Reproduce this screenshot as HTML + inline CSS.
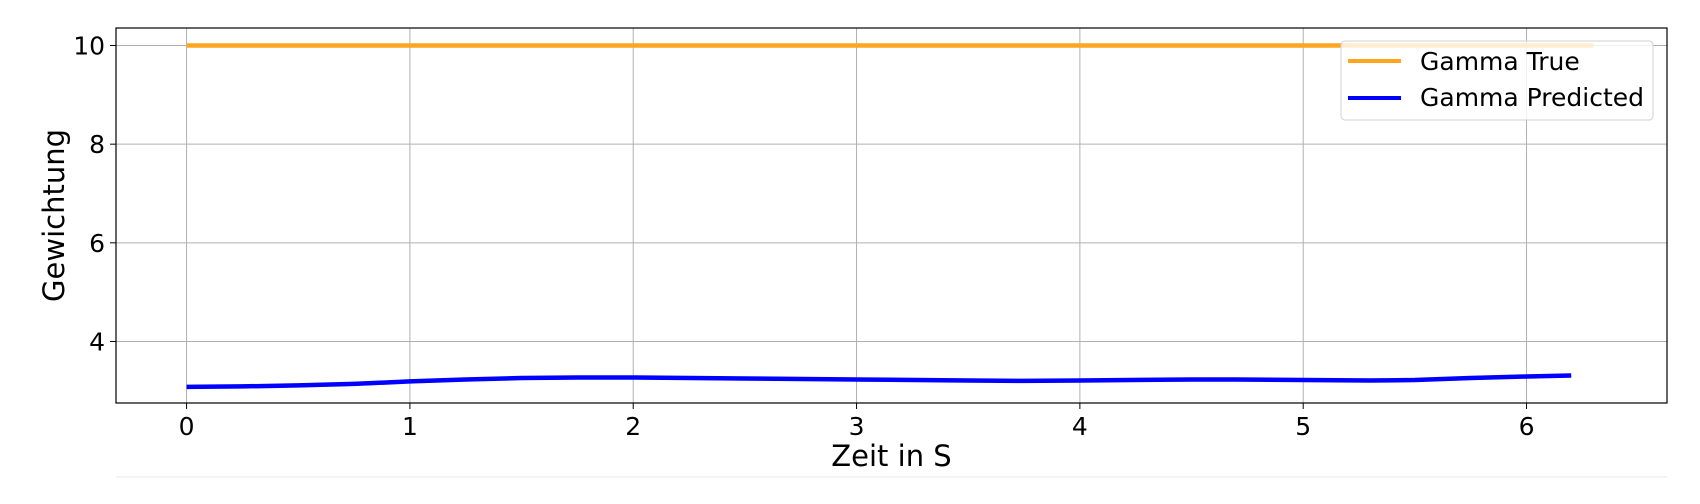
<!DOCTYPE html>
<html><head><meta charset="utf-8"><style>
body{margin:0;background:#fff;width:1700px;height:500px;overflow:hidden;font-family:"DejaVu Sans","Liberation Sans",sans-serif;}
</style></head><body>
<svg id="chart" width="1700" height="500" xmlns="http://www.w3.org/2000/svg" font-family="DejaVu Sans, Liberation Sans, sans-serif"></svg>
<script>
const xTicks=[0,1,2,3,4,5,6];
const yTicks=[4,6,8,10];
const trueX=[0,6.3];
const trueY=[10,10];
const predX=[0,0.25,0.5,0.75,1,1.25,1.5,1.75,2,2.5,3,3.5,3.75,4,4.5,4.7,5,5.3,5.5,5.75,6,6.2];
const predY=[3.08,3.09,3.11,3.14,3.19,3.23,3.26,3.27,3.27,3.25,3.23,3.21,3.2,3.21,3.23,3.23,3.22,3.21,3.22,3.26,3.29,3.31];
const L=116,R=1667,T=28,B=403,xmin=-0.316,xmax=6.629,ymin=2.753,ymax=10.355;
const sx=v=>L+(v-xmin)/(xmax-xmin)*(R-L);
const sy=v=>B-(v-ymin)/(ymax-ymin)*(B-T);
const svg=document.getElementById('chart');const NS='http://www.w3.org/2000/svg';
function mk(tag,attrs,parent){const e=document.createElementNS(NS,tag);for(const k in attrs)e.setAttribute(k,attrs[k]);(parent||svg).appendChild(e);return e;}
const bl=mk('line',{x1:L,x2:R,y1:477,y2:477,stroke:'#f0f0f0','stroke-width':1.5});


xTicks.forEach(t=>{
 const g=mk('line',{x1:sx(t),x2:sx(t),y1:T,y2:B,stroke:'#b0b0b0','stroke-width':1});
 
 
 mk('line',{x1:sx(t),x2:sx(t),y1:B,y2:B+6,stroke:'#000','stroke-width':1});
 const tx=mk('text',{x:sx(t),y:B+32,'text-anchor':'middle','font-size':25,fill:'#000'});tx.textContent=t;
 
 
});
yTicks.forEach(t=>{
 const g=mk('line',{x1:L,x2:R,y1:sy(t),y2:sy(t),stroke:'#b0b0b0','stroke-width':1});
 
 
 mk('line',{x1:L-6,x2:L,y1:sy(t),y2:sy(t),stroke:'#000','stroke-width':1});
 const tx=mk('text',{x:L-11,y:sy(t)+9,'text-anchor':'end','font-size':25,fill:'#000'});tx.textContent=t;
 
 
});
function path(xs,ys){return xs.map((x,i)=>(i?'L':'M')+sx(x).toFixed(1)+','+sy(ys[i]).toFixed(1)).join(' ');}
const tl=mk('path',{d:path(trueX,trueY),stroke:'#ffa51f',fill:'none','stroke-width':4.5});


const pl=mk('path',{d:path(predX,predY),stroke:'#0000ff',fill:'none','stroke-width':4.5,'stroke-linejoin':'round'});


const fr=mk('rect',{x:L,y:T,width:R-L,height:B-T,fill:'none',stroke:'#000','stroke-width':1.2});


const xl=mk('text',{x:(L+R)/2,y:466,'text-anchor':'middle','font-size':29,fill:'#000'});xl.textContent='Zeit in S';


const yl=mk('text',{x:0,y:0,'text-anchor':'middle','font-size':29,fill:'#000',transform:'translate(64,'+((T+B)/2)+') rotate(-90)'});yl.textContent='Gewichtung';


const lg=mk('g',{});


mk('rect',{x:1341,y:41,width:312,height:79,rx:4,fill:'rgba(255,255,255,0.8)',stroke:'#d0d0d0','stroke-width':1},lg);
mk('line',{x1:1348,x2:1401,y1:61,y2:61,stroke:'#ffa51f','stroke-width':4},lg);
const l1=mk('text',{x:1420,y:70,'font-size':25,fill:'#000'},lg);l1.textContent='Gamma True';


mk('line',{x1:1348,x2:1401,y1:98,y2:98,stroke:'#0000ff','stroke-width':4},lg);
const l2=mk('text',{x:1420,y:106,'font-size':25,fill:'#000'},lg);l2.textContent='Gamma Predicted';


</script>
</body></html>
